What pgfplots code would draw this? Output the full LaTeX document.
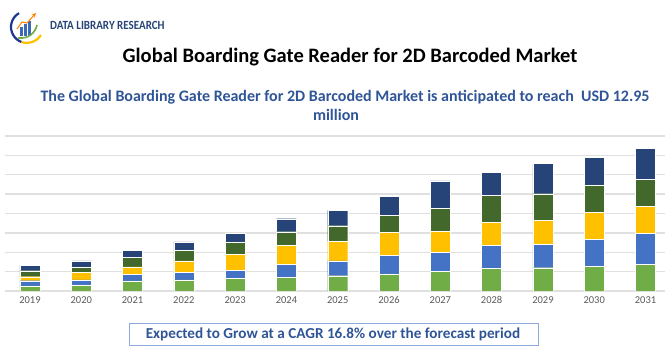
\documentclass[border=0pt]{standalone}
\usepackage{pgfplots}
\usepackage{pgfplotstable}
\pgfplotsset{compat=1.18}
\usepackage{fontspec}
\setmainfont{Carlito}
\definecolor{cgreen}{HTML}{70AD47}
\definecolor{cblue}{HTML}{4472C4}
\definecolor{cyellow}{HTML}{FFC000}
\definecolor{cdkgreen}{HTML}{43682B}
\definecolor{cnavy}{HTML}{264478}
\definecolor{subblue}{HTML}{2F5597}
\definecolor{gridgray}{HTML}{E0E0E0}
\definecolor{ticktext}{HTML}{595959}
\definecolor{boxline}{HTML}{8EA9DB}
\pgfplotstableread{
idx year g b y dg n
0 2019 0.26 0.27 0.21 0.31 0.29
1 2020 0.31 0.26 0.39 0.29 0.30
2 2021 0.52 0.34 0.39 0.50 0.35
3 2022 0.57 0.39 0.60 0.55 0.43
4 2023 0.65 0.43 0.81 0.65 0.43
5 2024 0.69 0.68 0.98 0.71 0.67
6 2025 0.79 0.77 1.02 0.79 0.79
7 2026 0.88 0.96 1.20 0.88 0.96
8 2027 1.00 0.98 1.11 1.19 1.41
9 2028 1.17 1.18 1.21 1.37 1.19
10 2029 1.20 1.21 1.23 1.38 1.56
11 2030 1.29 1.39 1.39 1.41 1.41
12 2031 1.39 1.58 1.41 1.39 1.58
}\datatable
\begin{document}
\begin{tikzpicture}
\path[use as bounding box] (0pt,0pt) rectangle (670pt,350pt);
% logo
\begin{scope}[shift={(27pt,323pt)}]
\draw[line width=2.2pt, cnavy!80!blue] (120:16pt) arc (120:250:16pt);
\draw[line width=2.2pt, cyellow] (250:16pt) arc (250:330:16pt);
\fill[cblue!80!cnavy] (-7pt,-9pt) rectangle (-4pt,0pt);
\fill[cblue!80!cnavy] (-3pt,-9pt) rectangle (0pt,3pt);
\fill[cblue!80!cnavy] (1pt,-9pt) rectangle (4pt,6pt);
\draw[line width=1.6pt, cgreen] (-9pt,-11pt) .. controls (2pt,-12pt) and (8pt,-6pt) .. (10pt,2pt);
\draw[line width=1pt, orange, -stealth] (-10pt,-2pt) -- (-5pt,5pt) -- (0pt,4pt) -- (9pt,14pt);
\end{scope}
\node[anchor=west, text=cnavy, font=\bfseries\fontsize{12.5}{14}\selectfont, inner sep=0pt, xscale=0.88] at (50pt,324.5pt) {DATA LIBRARY RESEARCH};
% titles
\node[font=\bfseries\fontsize{20.5}{24}\selectfont, inner sep=0pt] at (350pt,293pt) {Global Boarding Gate Reader for 2D Barcoded Market};
\node[font=\bfseries\fontsize{16}{19}\selectfont, text=subblue, inner sep=0pt] at (345pt,253pt) {The Global Boarding Gate Reader for 2D Barcoded Market is anticipated to reach\ \ USD 12.95};
\node[font=\bfseries\fontsize{16}{19}\selectfont, text=subblue, inner sep=0pt] at (336pt,235pt) {million};
\begin{axis}[
  at={(5pt,59pt)}, anchor=south west,
  scale only axis, width=660pt, height=155pt,
  xmin=-0.487, xmax=12.38, ymin=0, ymax=8,
  ybar stacked, bar width=20pt,
  axis line style={draw=none},
  ytick={0,1,...,8}, yticklabels={},
  ymajorgrids, grid style={gridgray, line width=1.3pt},
  major tick length=0pt,
  xtick={0,1,...,12},
  xticklabels={2019,2020,2021,2022,2023,2024,2025,2026,2027,2028,2029,2030,2031},
  xticklabel style={text=ticktext, font=\fontsize{10.5}{12}\selectfont, yshift=-2pt},
  every axis plot/.append style={draw=white, line width=0.3pt},
]
\addplot[fill=cgreen] table[x=idx, y=g] {\datatable};
\addplot[fill=cblue] table[x=idx, y=b] {\datatable};
\addplot[fill=cyellow] table[x=idx, y=y] {\datatable};
\addplot[fill=cdkgreen] table[x=idx, y=dg] {\datatable};
\addplot[fill=cnavy] table[x=idx, y=n] {\datatable};
\end{axis}
% bottom box
\draw[boxline, line width=0.8pt] (129pt,5pt) rectangle (538pt,27pt);
\node[font=\bfseries\fontsize{15.2}{17}\selectfont, text=subblue, inner sep=0pt] at (333pt,16pt) {Expected to Grow at a CAGR 16.8\% over the forecast period};
\end{tikzpicture}
\end{document}
